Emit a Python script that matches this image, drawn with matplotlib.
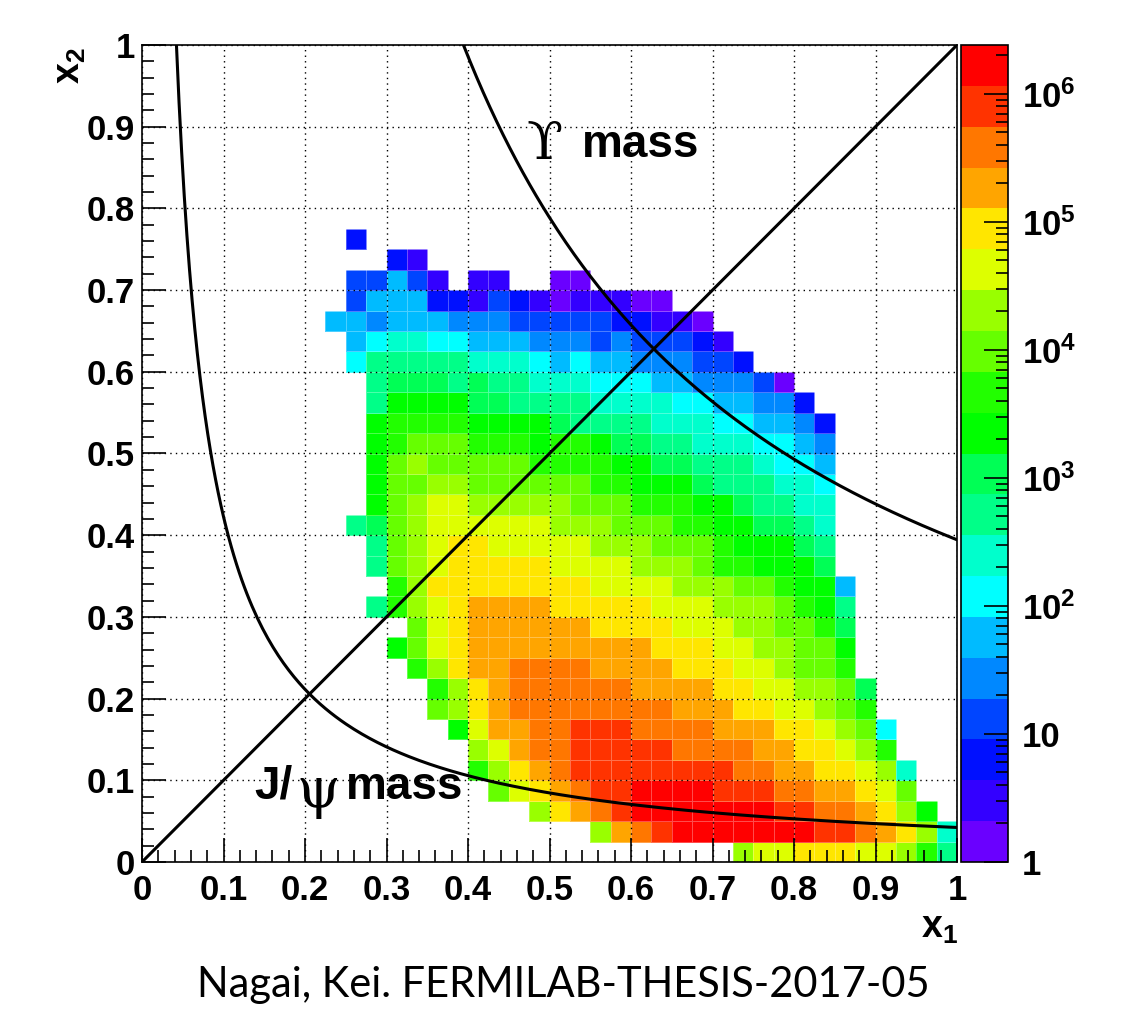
import numpy as np
import matplotlib
matplotlib.use('Agg')
from matplotlib import pyplot as plt
from matplotlib.colors import ListedColormap, LogNorm
from matplotlib.ticker import MultipleLocator, LogLocator, NullFormatter, FuncFormatter

plt.rcParams['font.family'] = ['Liberation Sans', 'DejaVu Sans']
plt.rcParams['font.weight'] = 'bold'
plt.rcParams['mathtext.fontset'] = 'custom'
plt.rcParams['mathtext.rm'] = 'Liberation Sans'
plt.rcParams['mathtext.bf'] = 'Liberation Sans:bold'
plt.rcParams['mathtext.it'] = 'Liberation Sans:italic'

# histogram: 40 x 40 bins on [0,1]x[0,1], values read as colour level (0..19), -1 = empty
nbins = 40
zmax = 2.4e6
palette = ['#6a00ff', '#3300ff', '#0010ff', '#0045ff', '#0088ff',
           '#00bbff', '#00ffff', '#00ffcc', '#00ff88', '#00ff55',
           '#00ff00', '#22ff00', '#66ff00', '#99ff00', '#ddff00',
           '#ffe600', '#ffa500', '#ff7700', '#ff3300', '#ff0000']

# first x-bin of each x2 row (row 0 = x2 in [0, 0.025])
first_col = [29, 22, 19, 17, 16, 16, 15, 14, 14, 13, 12, 13, 11, 12, 11, 11,
             10, 11, 11, 11, 11, 11, 11, 11, 10, 10, 9, 10, 10, 12, 10]
levels = [
    [13, 14, 14, 15, 15, 15, 14, 14, 13, 11, 8],
    [13, 16, 17, 18, 19, 19, 19, 19, 19, 19, 19, 18, 18, 17, 16, 15, 13, 7],
    [13, 15, 16, 17, 18, 19, 19, 19, 19, 19, 19, 19, 18, 18, 17, 17, 16, 15, 13, 10],
    [12, 14, 15, 16, 17, 18, 18, 19, 19, 19, 19, 18, 18, 18, 17, 17, 16, 16, 15, 14, 12],
    [11, 13, 15, 16, 17, 18, 18, 18, 18, 18, 18, 18, 18, 17, 17, 16, 16, 15, 15, 14, 13, 7],
    [13, 14, 16, 17, 17, 18, 18, 18, 18, 18, 17, 17, 17, 17, 16, 16, 15, 15, 14, 13, 11],
    [10, 14, 16, 16, 17, 17, 18, 18, 18, 17, 17, 17, 17, 16, 16, 16, 15, 15, 14, 13, 12, 6],
    [12, 13, 15, 16, 17, 17, 17, 17, 17, 17, 17, 17, 16, 16, 16, 15, 15, 14, 14, 13, 12, 11],
    [11, 13, 15, 16, 17, 17, 17, 17, 17, 17, 16, 16, 16, 16, 15, 15, 14, 14, 13, 13, 12, 9],
    [11, 13, 15, 16, 16, 17, 17, 17, 17, 16, 16, 16, 16, 15, 15, 15, 14, 14, 13, 12, 12, 11],
    [10, 12, 14, 15, 16, 16, 16, 16, 16, 16, 16, 16, 16, 15, 15, 15, 14, 14, 13, 13, 12, 12, 10],
    [12, 14, 15, 16, 16, 16, 16, 16, 16, 15, 15, 15, 15, 14, 14, 14, 13, 13, 12, 12, 11, 9],
    [8, 11, 13, 14, 15, 16, 16, 16, 16, 15, 15, 15, 15, 15, 14, 14, 14, 13, 13, 13, 12, 11, 10, 8],
    [11, 13, 15, 15, 15, 15, 15, 15, 15, 15, 14, 14, 14, 14, 13, 13, 13, 12, 12, 11, 10, 10, 5],
    [8, 12, 13, 14, 15, 15, 15, 15, 15, 14, 14, 14, 14, 13, 13, 13, 12, 11, 11, 10, 10, 10, 9],
    [8, 12, 13, 14, 15, 15, 14, 14, 14, 14, 14, 13, 13, 13, 12, 12, 12, 11, 10, 10, 10, 9, 8],
    [8, 9, 12, 13, 14, 14, 14, 14, 14, 14, 13, 13, 13, 12, 12, 12, 11, 11, 10, 10, 9, 9, 8, 7],
    [10, 12, 13, 14, 14, 13, 13, 13, 13, 13, 12, 12, 12, 11, 11, 11, 10, 10, 9, 8, 8, 7, 7],
    [10, 12, 12, 13, 13, 12, 12, 12, 12, 12, 12, 11, 11, 10, 10, 10, 9, 8, 8, 8, 7, 7, 6],
    [10, 12, 13, 12, 12, 12, 12, 12, 11, 11, 11, 11, 10, 10, 9, 9, 8, 8, 8, 7, 6, 6, 5],
    [10, 11, 12, 12, 12, 11, 11, 11, 10, 11, 11, 10, 9, 9, 8, 8, 7, 7, 7, 6, 6, 5, 4],
    [10, 11, 11, 11, 11, 10, 10, 10, 10, 9, 8, 8, 8, 8, 7, 7, 7, 6, 6, 5, 5, 4, 2],
    [8, 10, 10, 10, 10, 9, 9, 8, 8, 8, 8, 7, 7, 7, 7, 6, 6, 5, 5, 4, 4, 2],
    [8, 9, 9, 9, 8, 9, 8, 8, 7, 7, 7, 6, 6, 6, 5, 5, 4, 4, 4, 3, 0],
    [6, 8, 8, 8, 8, 8, 7, 7, 7, 6, 5, 6, 5, 5, 4, 4, 4, 3, 3, 2],
    [5, 6, 7, 7, 6, 6, 5, 5, 5, 4, 4, 4, 3, 4, 3, 3, 3, 2, 1],
    [5, 5, 4, 5, 5, 5, 4, 4, 4, 3, 3, 3, 3, 3, 2, 2, 1, 1, 0],
    [3, 5, 5, 5, 2, 2, 1, 3, 2, 1, 0, 1, 1, 1, 0, 0],
    [3, 3, 5, 3, 1, -1, 1, 1, -1, -1, 0, 0],
    [2, 1],
    [2],
]

# kinematics: 120 GeV proton beam on fixed target
s_hat = 226.9
m_jpsi = 3.097
m_ups = 9.46

H = np.full((nbins, nbins), np.nan)
nlev = len(palette)
for r in range(len(levels)):
    for k, lv in enumerate(levels[r]):
        if lv >= 0:
            H[r, first_col[r] + k] = 10 ** ((lv + 0.5) * np.log10(zmax) / nlev)

edges = np.linspace(0, 1, nbins + 1)

fig = plt.figure(figsize=(11.24, 10.18), dpi=100)
ax = fig.add_axes([142 / 1124, 156 / 1018, 815 / 1124, 817 / 1018])
cmap = ListedColormap(palette)
mesh = ax.pcolormesh(edges, edges, np.ma.masked_invalid(H), cmap=cmap,
                     norm=LogNorm(vmin=1, vmax=zmax),
                     edgecolors=(1, 1, 1, 0.3), linewidth=0.4)

# x1 = x2 line and constant-mass curves x1*x2 = M^2/s
ax.plot([0, 1], [0, 1], color='black', lw=2.2, zorder=5)
for m in [m_jpsi, m_ups]:
    tau = m ** 2 / s_hat
    xx = np.linspace(tau, 1, 300)
    ax.plot(xx, tau / xx, color='black', lw=2.2, zorder=5)

ax.set_xlim(0, 1)
ax.set_ylim(0, 1)
ax.xaxis.set_major_locator(MultipleLocator(0.1))
ax.yaxis.set_major_locator(MultipleLocator(0.1))
ax.xaxis.set_minor_locator(MultipleLocator(0.02))
ax.yaxis.set_minor_locator(MultipleLocator(0.02))
fmt = FuncFormatter(lambda v, p: '%g' % round(v, 2))
ax.xaxis.set_major_formatter(fmt)
ax.yaxis.set_major_formatter(fmt)
ax.tick_params(which='both', direction='in', top=False, right=False, width=1.2)
ax.tick_params(which='major', length=17, labelsize=25)
ax.tick_params(which='minor', length=8.5)
ax.tick_params(axis='x', pad=9)
ax.tick_params(axis='y', pad=5)
ax.set_axisbelow(False)
ax.grid(True, which='major', color='black', linestyle=(0, (1, 3)), linewidth=1.0)
for sp in ax.spines.values():
    sp.set_linewidth(1.2)

# labels on the plot
ax.text(0.472, 0.878, '\u03d2', family=['DejaVu Serif', 'DejaVu Sans'], weight='normal',
        fontsize=38, va='center', ha='left', zorder=6)
ax.text(0.54, 0.878, 'mass', fontsize=33, va='center', ha='left', zorder=6)
ax.text(0.138, 0.092, 'J/', fontsize=33, va='center', ha='left', zorder=6)
ax.text(0.190, 0.086, '\u03c8', family=['DejaVu Serif', 'DejaVu Sans'], weight='normal',
        fontsize=40, va='center', ha='left', zorder=6)
ax.text(0.250, 0.092, 'mass', fontsize=33, va='center', ha='left', zorder=6)

# colour bar
cax = fig.add_axes([961 / 1124, 156 / 1018, 47 / 1124, 817 / 1018])
cb = fig.colorbar(mesh, cax=cax)
cb.outline.set_linewidth(1.2)
major = [1, 10, 100, 1e3, 1e4, 1e5, 1e6]
labels = ['1', '10'] + [r'$\mathbf{10^{%d}}$' % k for k in range(2, 7)]
cb.set_ticks(major, labels=labels)
cax.yaxis.set_minor_locator(LogLocator(base=10, subs=np.arange(2, 10), numticks=20))
cax.yaxis.set_minor_formatter(NullFormatter())
cax.tick_params(which='both', direction='in', right=True, left=False, width=1.2)
cax.tick_params(which='major', length=17, labelsize=25, pad=10)
cax.tick_params(which='minor', length=8.5)

fig.text(940 / 1124, 1 - 928 / 1018, r'$\mathbf{x_{1}}$', fontsize=27, ha='center', va='center')
fig.text(70 / 1124, 1 - 66 / 1018, r'$\mathbf{x_{2}}$', fontsize=27, ha='center', va='center',
         rotation=90)

fig.text(563 / 1124, 1 - 985 / 1018, 'Nagai, Kei. FERMILAB-THESIS-2017-05',
         family=['Lato', 'DejaVu Sans'], weight='normal', fontsize=30, ha='center', va='center')

fig.savefig('out.png', dpi=100)
